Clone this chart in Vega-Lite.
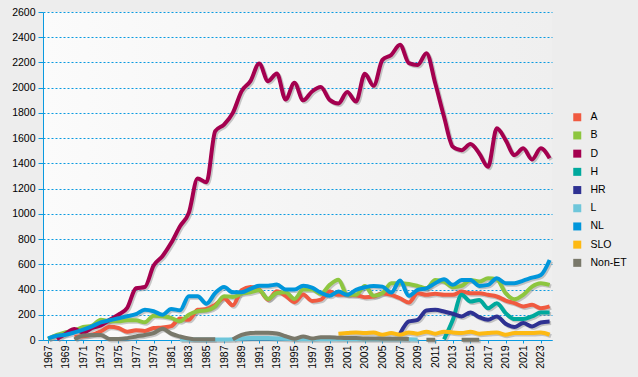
{
  "$schema": "https://vega.github.io/schema/vega-lite/v6.json",
  "width": 509,
  "height": 328,
  "autosize": {"type": "none"},
  "padding": {"left": 43, "top": 12, "right": 86, "bottom": 37},
  "background": "#ededed",
  "config": {
    "font": "Liberation Sans",
    "view": {"stroke": null, "fill": {"gradient": "linear", "x1": 0, "x2": 1, "y1": 0, "y2": 0, "stops": [{"offset": 0, "color": "#fbfbfb"}, {"offset": 1, "color": "#efefef"}]}},
    "axis": {"domainColor": "#0a9ae0", "tickColor": "#0a9ae0", "gridColor": "#0a9ae0", "gridDash": [2, 2], "labelColor": "#000000", "labelFontSize": 10.5, "titleFontSize": 11}
  },
  "datasets": {
    "rows": [
      {"year":1970,"s":"A","v":25},{"year":1971,"s":"A","v":29},{"year":1972,"s":"A","v":42},{"year":1973,"s":"A","v":69},{"year":1974,"s":"A","v":105},{"year":1975,"s":"A","v":95},{"year":1976,"s":"A","v":66},{"year":1977,"s":"A","v":77},{"year":1978,"s":"A","v":72},{"year":1979,"s":"A","v":95},{"year":1980,"s":"A","v":100},{"year":1981,"s":"A","v":110},{"year":1982,"s":"A","v":170},{"year":1983,"s":"A","v":160},{"year":1984,"s":"A","v":240},{"year":1985,"s":"A","v":245},{"year":1986,"s":"A","v":280},{"year":1987,"s":"A","v":330},{"year":1988,"s":"A","v":275},{"year":1989,"s":"A","v":395},{"year":1990,"s":"A","v":420},{"year":1991,"s":"A","v":400},{"year":1992,"s":"A","v":320},{"year":1993,"s":"A","v":386},{"year":1994,"s":"A","v":350},{"year":1995,"s":"A","v":300},{"year":1996,"s":"A","v":360},{"year":1997,"s":"A","v":310},{"year":1998,"s":"A","v":320},{"year":1999,"s":"A","v":384},{"year":2000,"s":"A","v":358},{"year":2001,"s":"A","v":358},{"year":2002,"s":"A","v":355},{"year":2003,"s":"A","v":339},{"year":2004,"s":"A","v":345},{"year":2005,"s":"A","v":371},{"year":2006,"s":"A","v":358},{"year":2007,"s":"A","v":331},{"year":2008,"s":"A","v":297},{"year":2009,"s":"A","v":371},{"year":2010,"s":"A","v":358},{"year":2011,"s":"A","v":366},{"year":2012,"s":"A","v":358},{"year":2013,"s":"A","v":358},{"year":2014,"s":"A","v":384},{"year":2015,"s":"A","v":371},{"year":2016,"s":"A","v":371},{"year":2017,"s":"A","v":358},{"year":2018,"s":"A","v":345},{"year":2019,"s":"A","v":313},{"year":2020,"s":"A","v":292},{"year":2021,"s":"A","v":266},{"year":2022,"s":"A","v":279},{"year":2023,"s":"A","v":252},{"year":2024,"s":"A","v":266},

      {"year":1967,"s":"B","v":8},{"year":1968,"s":"B","v":40},{"year":1969,"s":"B","v":61},{"year":1970,"s":"B","v":77},{"year":1971,"s":"B","v":103},{"year":1972,"s":"B","v":114},{"year":1973,"s":"B","v":161},{"year":1974,"s":"B","v":148},{"year":1975,"s":"B","v":148},{"year":1976,"s":"B","v":156},{"year":1977,"s":"B","v":156},{"year":1978,"s":"B","v":140},{"year":1979,"s":"B","v":193},{"year":1980,"s":"B","v":188},{"year":1981,"s":"B","v":175},{"year":1982,"s":"B","v":148},{"year":1983,"s":"B","v":201},{"year":1984,"s":"B","v":228},{"year":1985,"s":"B","v":235},{"year":1986,"s":"B","v":267},{"year":1987,"s":"B","v":347},{"year":1988,"s":"B","v":341},{"year":1989,"s":"B","v":368},{"year":1990,"s":"B","v":378},{"year":1991,"s":"B","v":394},{"year":1992,"s":"B","v":325},{"year":1993,"s":"B","v":373},{"year":1994,"s":"B","v":378},{"year":1995,"s":"B","v":325},{"year":1996,"s":"B","v":400},{"year":1997,"s":"B","v":400},{"year":1998,"s":"B","v":365},{"year":1999,"s":"B","v":437},{"year":2000,"s":"B","v":478},{"year":2001,"s":"B","v":358},{"year":2002,"s":"B","v":358},{"year":2003,"s":"B","v":429},{"year":2004,"s":"B","v":350},{"year":2005,"s":"B","v":371},{"year":2006,"s":"B","v":450},{"year":2007,"s":"B","v":450},{"year":2008,"s":"B","v":444},{"year":2009,"s":"B","v":429},{"year":2010,"s":"B","v":410},{"year":2011,"s":"B","v":476},{"year":2012,"s":"B","v":463},{"year":2013,"s":"B","v":418},{"year":2014,"s":"B","v":429},{"year":2015,"s":"B","v":476},{"year":2016,"s":"B","v":463},{"year":2017,"s":"B","v":489},{"year":2018,"s":"B","v":481},{"year":2019,"s":"B","v":371},{"year":2020,"s":"B","v":323},{"year":2021,"s":"B","v":358},{"year":2022,"s":"B","v":423},{"year":2023,"s":"B","v":450},{"year":2024,"s":"B","v":437},

      {"year":1968,"s":"D","v":8},{"year":1969,"s":"D","v":50},{"year":1970,"s":"D","v":87},{"year":1971,"s":"D","v":58},{"year":1972,"s":"D","v":95},{"year":1973,"s":"D","v":115},{"year":1974,"s":"D","v":160},{"year":1975,"s":"D","v":200},{"year":1976,"s":"D","v":255},{"year":1977,"s":"D","v":410},{"year":1978,"s":"D","v":420},{"year":1979,"s":"D","v":590},{"year":1980,"s":"D","v":664},{"year":1981,"s":"D","v":770},{"year":1982,"s":"D","v":902},{"year":1983,"s":"D","v":1008},{"year":1984,"s":"D","v":1280},{"year":1985,"s":"D","v":1250},{"year":1986,"s":"D","v":1655},{"year":1987,"s":"D","v":1708},{"year":1988,"s":"D","v":1800},{"year":1989,"s":"D","v":1973},{"year":1990,"s":"D","v":2052},{"year":1991,"s":"D","v":2192},{"year":1992,"s":"D","v":2052},{"year":1993,"s":"D","v":2113},{"year":1994,"s":"D","v":1906},{"year":1995,"s":"D","v":2039},{"year":1996,"s":"D","v":1900},{"year":1997,"s":"D","v":1970},{"year":1998,"s":"D","v":2005},{"year":1999,"s":"D","v":1903},{"year":2000,"s":"D","v":1875},{"year":2001,"s":"D","v":1965},{"year":2002,"s":"D","v":1890},{"year":2003,"s":"D","v":2110},{"year":2004,"s":"D","v":2015},{"year":2005,"s":"D","v":2220},{"year":2006,"s":"D","v":2260},{"year":2007,"s":"D","v":2340},{"year":2008,"s":"D","v":2195},{"year":2009,"s":"D","v":2180},{"year":2010,"s":"D","v":2274},{"year":2011,"s":"D","v":2035},{"year":2012,"s":"D","v":1770},{"year":2013,"s":"D","v":1532},{"year":2014,"s":"D","v":1505},{"year":2015,"s":"D","v":1553},{"year":2016,"s":"D","v":1479},{"year":2017,"s":"D","v":1373},{"year":2018,"s":"D","v":1678},{"year":2019,"s":"D","v":1585},{"year":2020,"s":"D","v":1466},{"year":2021,"s":"D","v":1519},{"year":2022,"s":"D","v":1431},{"year":2023,"s":"D","v":1519},{"year":2024,"s":"D","v":1440},

      {"year":2012,"s":"H","v":5},{"year":2013,"s":"H","v":160},{"year":2014,"s":"H","v":358},{"year":2015,"s":"H","v":305},{"year":2016,"s":"H","v":318},{"year":2017,"s":"H","v":252},{"year":2018,"s":"H","v":292},{"year":2019,"s":"H","v":213},{"year":2020,"s":"H","v":166},{"year":2021,"s":"H","v":166},{"year":2022,"s":"H","v":187},{"year":2023,"s":"H","v":218},{"year":2024,"s":"H","v":218},

      {"year":2007,"s":"HR","v":50},{"year":2008,"s":"HR","v":147},{"year":2009,"s":"HR","v":160},{"year":2010,"s":"HR","v":234},{"year":2011,"s":"HR","v":239},{"year":2012,"s":"HR","v":226},{"year":2013,"s":"HR","v":208},{"year":2014,"s":"HR","v":187},{"year":2015,"s":"HR","v":218},{"year":2016,"s":"HR","v":181},{"year":2017,"s":"HR","v":160},{"year":2018,"s":"HR","v":187},{"year":2019,"s":"HR","v":129},{"year":2020,"s":"HR","v":103},{"year":2021,"s":"HR","v":134},{"year":2022,"s":"HR","v":108},{"year":2023,"s":"HR","v":139},{"year":2024,"s":"HR","v":147},

      {"year":1982,"s":"L","v":3},{"year":1983,"s":"L","v":3},{"year":1984,"s":"L","v":3},{"year":1985,"s":"L","v":3},{"year":1986,"s":"L","v":3},{"year":1987,"s":"L","v":3},{"year":1988,"s":"L","v":5},{"year":1989,"s":"L","v":12},{"year":1990,"s":"L","v":15},{"year":1991,"s":"L","v":15},{"year":1992,"s":"L","v":15},{"year":1993,"s":"L","v":12},{"year":1994,"s":"L","v":10},{"year":1995,"s":"L","v":8},{"year":1996,"s":"L","v":5},{"year":1997,"s":"L","v":5},{"year":1998,"s":"L","v":5},{"year":1999,"s":"L","v":5},{"year":2000,"s":"L","v":5},{"year":2001,"s":"L","v":5},{"year":2002,"s":"L","v":5},{"year":2003,"s":"L","v":5},{"year":2004,"s":"L","v":5},{"year":2005,"s":"L","v":5},{"year":2006,"s":"L","v":5},{"year":2007,"s":"L","v":5},{"year":2008,"s":"L","v":5},{"year":2009,"s":"L","v":3},

      {"year":1967,"s":"NL","v":13},{"year":1968,"s":"NL","v":34},{"year":1969,"s":"NL","v":42},{"year":1970,"s":"NL","v":60},{"year":1971,"s":"NL","v":82},{"year":1972,"s":"NL","v":108},{"year":1973,"s":"NL","v":140},{"year":1974,"s":"NL","v":156},{"year":1975,"s":"NL","v":172},{"year":1976,"s":"NL","v":188},{"year":1977,"s":"NL","v":206},{"year":1978,"s":"NL","v":240},{"year":1979,"s":"NL","v":228},{"year":1980,"s":"NL","v":200},{"year":1981,"s":"NL","v":246},{"year":1982,"s":"NL","v":235},{"year":1983,"s":"NL","v":347},{"year":1984,"s":"NL","v":347},{"year":1985,"s":"NL","v":288},{"year":1986,"s":"NL","v":373},{"year":1987,"s":"NL","v":420},{"year":1988,"s":"NL","v":378},{"year":1989,"s":"NL","v":378},{"year":1990,"s":"NL","v":405},{"year":1991,"s":"NL","v":431},{"year":1992,"s":"NL","v":431},{"year":1993,"s":"NL","v":439},{"year":1994,"s":"NL","v":400},{"year":1995,"s":"NL","v":400},{"year":1996,"s":"NL","v":430},{"year":1997,"s":"NL","v":415},{"year":1998,"s":"NL","v":375},{"year":1999,"s":"NL","v":350},{"year":2000,"s":"NL","v":384},{"year":2001,"s":"NL","v":358},{"year":2002,"s":"NL","v":397},{"year":2003,"s":"NL","v":418},{"year":2004,"s":"NL","v":429},{"year":2005,"s":"NL","v":423},{"year":2006,"s":"NL","v":376},{"year":2007,"s":"NL","v":471},{"year":2008,"s":"NL","v":350},{"year":2009,"s":"NL","v":397},{"year":2010,"s":"NL","v":410},{"year":2011,"s":"NL","v":450},{"year":2012,"s":"NL","v":481},{"year":2013,"s":"NL","v":437},{"year":2014,"s":"NL","v":476},{"year":2015,"s":"NL","v":476},{"year":2016,"s":"NL","v":429},{"year":2017,"s":"NL","v":437},{"year":2018,"s":"NL","v":489},{"year":2019,"s":"NL","v":450},{"year":2020,"s":"NL","v":450},{"year":2021,"s":"NL","v":471},{"year":2022,"s":"NL","v":494},{"year":2023,"s":"NL","v":515},{"year":2024,"s":"NL","v":634},

      {"year":2000,"s":"SLO","v":50},{"year":2001,"s":"SLO","v":55},{"year":2002,"s":"SLO","v":60},{"year":2003,"s":"SLO","v":55},{"year":2004,"s":"SLO","v":60},{"year":2005,"s":"SLO","v":42},{"year":2006,"s":"SLO","v":55},{"year":2007,"s":"SLO","v":42},{"year":2008,"s":"SLO","v":60},{"year":2009,"s":"SLO","v":50},{"year":2010,"s":"SLO","v":66},{"year":2011,"s":"SLO","v":50},{"year":2012,"s":"SLO","v":66},{"year":2013,"s":"SLO","v":60},{"year":2014,"s":"SLO","v":55},{"year":2015,"s":"SLO","v":66},{"year":2016,"s":"SLO","v":50},{"year":2017,"s":"SLO","v":55},{"year":2018,"s":"SLO","v":60},{"year":2019,"s":"SLO","v":42},{"year":2020,"s":"SLO","v":55},{"year":2021,"s":"SLO","v":55},{"year":2022,"s":"SLO","v":55},{"year":2023,"s":"SLO","v":60},{"year":2024,"s":"SLO","v":42},

      {"year":1970,"s":"Non-ET","v":5},{"year":1971,"s":"Non-ET","v":35},{"year":1972,"s":"Non-ET","v":40},{"year":1973,"s":"Non-ET","v":40},{"year":1974,"s":"Non-ET","v":8},{"year":1975,"s":"Non-ET","v":8},{"year":1976,"s":"Non-ET","v":15},{"year":1977,"s":"Non-ET","v":28},{"year":1978,"s":"Non-ET","v":40},{"year":1979,"s":"Non-ET","v":55},{"year":1980,"s":"Non-ET","v":90},{"year":1981,"s":"Non-ET","v":50},{"year":1982,"s":"Non-ET","v":28},{"year":1983,"s":"Non-ET","v":12},{"year":1984,"s":"Non-ET","v":5},{"year":1985,"s":"Non-ET","v":5},{"year":1986,"s":"Non-ET","v":5},{"year":1987,"s":"Non-ET","v":null},{"year":1988,"s":"Non-ET","v":5},{"year":1989,"s":"Non-ET","v":40},{"year":1990,"s":"Non-ET","v":55},{"year":1991,"s":"Non-ET","v":58},{"year":1992,"s":"Non-ET","v":58},{"year":1993,"s":"Non-ET","v":52},{"year":1994,"s":"Non-ET","v":30},{"year":1995,"s":"Non-ET","v":10},{"year":1996,"s":"Non-ET","v":28},{"year":1997,"s":"Non-ET","v":12},{"year":1998,"s":"Non-ET","v":22},{"year":1999,"s":"Non-ET","v":22},{"year":2000,"s":"Non-ET","v":18},{"year":2001,"s":"Non-ET","v":15},{"year":2002,"s":"Non-ET","v":15},{"year":2003,"s":"Non-ET","v":12},{"year":2004,"s":"Non-ET","v":12},{"year":2005,"s":"Non-ET","v":10},{"year":2006,"s":"Non-ET","v":10},{"year":2007,"s":"Non-ET","v":10},{"year":2008,"s":"Non-ET","v":8},{"year":2009,"s":"Non-ET","v":null},{"year":2010,"s":"Non-ET","v":2},{"year":2011,"s":"Non-ET","v":2},{"year":2012,"s":"Non-ET","v":null},{"year":2013,"s":"Non-ET","v":null},{"year":2014,"s":"Non-ET","v":2},{"year":2015,"s":"Non-ET","v":2},{"year":2016,"s":"Non-ET","v":2},{"year":2017,"s":"Non-ET","v":null}
    ]
  },
  "data": {"name": "rows"},
  "encoding": {
    "x": {
      "field": "year", "type": "quantitative",
      "scale": {"domain": [1966.43, 2024.27], "nice": false, "zero": false},
      "axis": {"title": null, "values": [1967,1969,1971,1973,1975,1977,1979,1981,1983,1985,1987,1989,1991,1993,1995,1997,1999,2001,2003,2005,2007,2009,2011,2013,2015,2017,2019,2021,2023], "format": "d", "labelAngle": -90, "labelAlign": "right", "labelBaseline": "middle", "grid": false, "tickSize": 3, "labelPadding": 2}
    },
    "y": {
      "field": "v", "type": "quantitative",
      "scale": {"domain": [0, 2600], "nice": false},
      "axis": {"title": null, "format": "d", "values": [0,200,400,600,800,1000,1200,1400,1600,1800,2000,2200,2400,2600], "grid": true, "tickSize": 5, "labelPadding": 3}
    }
  },
  "layer": [
    {
      "mark": {"type": "line", "interpolate": "monotone", "strokeWidth": 4, "color": "#8a8a8a", "opacity": 0.45, "xOffset": 1.5, "yOffset": 1.5},
      "encoding": {"detail": {"field": "s"}}
    },
    {
      "mark": {"type": "line", "interpolate": "monotone", "strokeWidth": 4},
      "encoding": {
        "color": {
          "field": "s", "type": "nominal",
          "scale": {
            "domain": ["A","B","D","H","HR","L","NL","SLO","Non-ET"],
            "range": ["#f05a40","#8dc63f","#a4004f","#00a99d","#2e3192","#6ec6da","#0096db","#fdb913","#79786a"]
          },
          "legend": {
            "title": null, "orient": "none", "legendX": 529, "legendY": 100,
            "symbolType": "square", "symbolSize": 64, "symbolStrokeWidth": 0,
            "labelFontSize": 10.5, "labelColor": "#000000", "rowPadding": 7.2, "labelOffset": 8,
            "encode": {"symbols": {"update": {"fill": {"scale": "color", "field": "value"}, "fillOpacity": {"value": 1}, "strokeWidth": {"value": 0}}}}
          }
        }
      }
    }
  ]
}
